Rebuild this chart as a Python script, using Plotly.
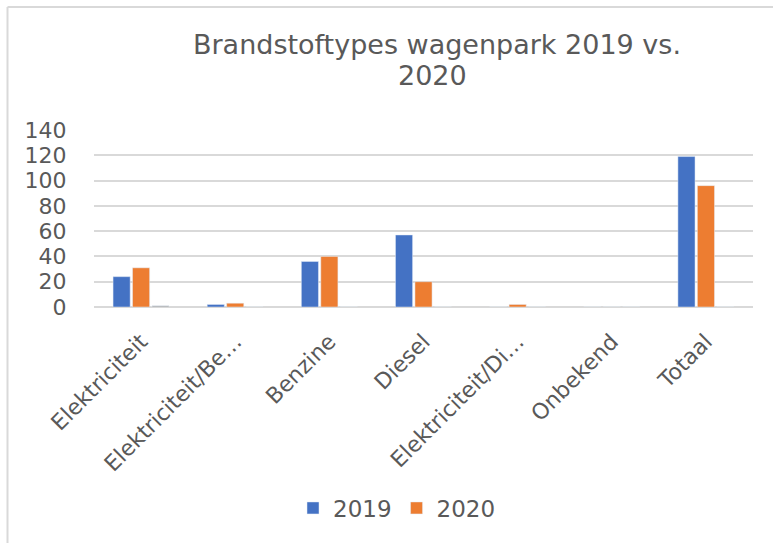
import plotly.graph_objects as go

categories = ["Elektriciteit", "Elektriciteit/Be…", "Benzine", "Diesel",
              "Elektriciteit/Di…", "Onbekend", "Totaal"]
values_2019 = [24, 2, 36, 57, 0, 0, 119]
values_2020 = [31, 3, 40, 20, 2, 0, 96]
values_extra = [1, 0, 0, 0, 0, 0, 0]

W, H = 773, 543
L, R, T, B = 94, 20, 130, 236
pw, ph = W - L - R, H - T - B

fig = go.Figure()
fig.add_trace(go.Bar(name="2019", x=categories, y=values_2019, marker_color="#4472C4"))
fig.add_trace(go.Bar(name="2020", x=categories, y=values_2020, marker_color="#ED7D31"))
fig.add_trace(go.Bar(name="", x=categories, y=values_extra, marker_color="#A5A5A5", showlegend=False))

def px_x(p):
    return (p - L) / pw

def px_y(p):
    return (H - B - p) / ph

border = dict(color="#d9d9d9", width=2)
fig.update_layout(
    width=W, height=H,
    margin=dict(l=L, r=R, t=T, b=B, autoexpand=False),
    paper_bgcolor="white", plot_bgcolor="white",
    font=dict(family="DejaVu Sans", color="#595959", size=22),
    barmode="group", bargap=0.38, bargroupgap=0.12,
    title=dict(text="Brandstoftypes wagenpark 2019 vs.",
               x=437 / W, xref="container", xanchor="center",
               y=1 - 45 / H, yref="container", yanchor="middle",
               font=dict(size=27, color="#595959", family="DejaVu Sans")),
    annotations=[dict(text="2020", xref="paper", yref="paper", x=px_x(432), y=px_y(75),
                      xanchor="center", yanchor="middle", showarrow=False,
                      font=dict(size=27, color="#595959", family="DejaVu Sans"))],
    showlegend=True,
    legend=dict(orientation="h", x=px_x(397), xanchor="center", y=px_y(508), yanchor="middle",
                font=dict(size=23, color="#595959"), itemwidth=30, traceorder="normal"),
    shapes=[
        dict(type="line", xref="paper", yref="paper",
             x0=px_x(7.5), x1=px_x(780), y0=px_y(7), y1=px_y(7), line=border, layer="below"),
        dict(type="line", xref="paper", yref="paper",
             x0=px_x(7.5), x1=px_x(7.5), y0=px_y(550), y1=px_y(7), line=border, layer="below"),
    ],
)
fig.update_yaxes(range=[0, 140], dtick=20, showgrid=True, gridcolor="#d9d9d9", gridwidth=1.5,
                 zeroline=True, zerolinecolor="#d9d9d9", zerolinewidth=1.5,
                 tickfont=dict(size=22, color="#595959"),
                 ticks="outside", ticklen=22, tickcolor="rgba(0,0,0,0)", showline=False)
fig.update_xaxes(tickangle=-45, tickfont=dict(size=22, color="#595959"), showline=False,
                 ticks="outside", ticklen=12, tickcolor="rgba(0,0,0,0)")
fig.write_html("out.html", post_script="document.body.style.margin='0px';",
               config={"displayModeBar": False})
